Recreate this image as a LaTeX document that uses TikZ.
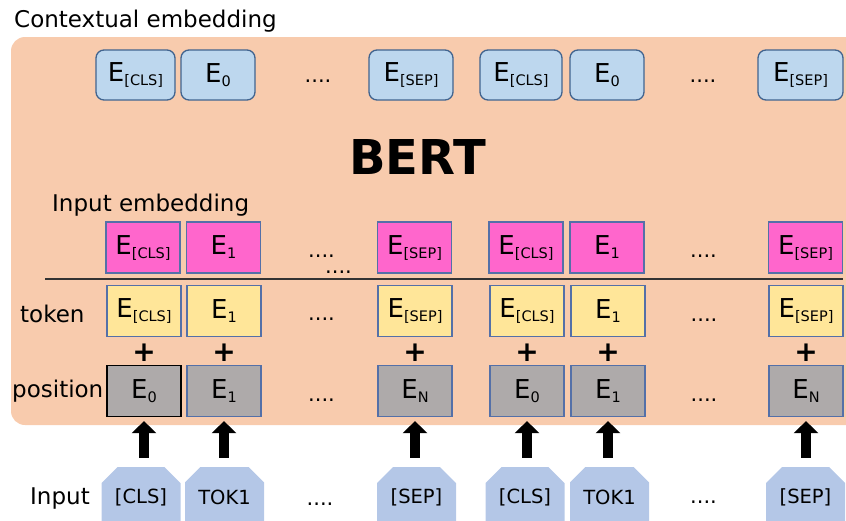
\documentclass[tikz,border=0pt]{standalone}
\usepackage{fontspec}
\setmainfont{DejaVu Sans}
\usetikzlibrary{arrows.meta,shapes.misc}
\definecolor{bgorange}{HTML}{F8CBAD}
\definecolor{ctxblue}{HTML}{BDD7EE}
\definecolor{ctxborder}{HTML}{41648F}
\definecolor{pinkfill}{HTML}{FF66CC}
\definecolor{yellowfill}{HTML}{FFE699}
\definecolor{grayfill}{HTML}{AEAAAA}
\definecolor{boxborder}{HTML}{5470A8}
\definecolor{inputblue}{HTML}{B4C7E7}
\newcommand{\Emb}[1]{E\raisebox{-4pt}{\fontsize{14.5}{14.5}\selectfont #1}}
\tikzset{
  ctx/.style={draw=ctxborder, fill=ctxblue, line width=1.3pt, rounded corners=8pt,
    minimum height=50pt, inner sep=0pt, font=\fontsize{26}{26}\selectfont},
  emb/.style={draw=boxborder, line width=1.2pt, minimum width=74pt, minimum height=51pt,
    inner sep=0pt, font=\fontsize{26}{26}\selectfont},
  pinkbox/.style={emb, fill=pinkfill},
  tokbox/.style={emb, fill=yellowfill},
  posbox/.style={emb, fill=grayfill},
  inbox/.style={chamfered rectangle, chamfered rectangle corners={north west,north east},
    chamfered rectangle xsep=8pt, chamfered rectangle ysep=8pt, fill=inputblue,
    minimum width=79pt, minimum height=60pt, inner sep=0pt, font=\fontsize{19.5}{19.5}\selectfont},
  lbl/.style={anchor=base west, inner sep=0pt, font=\fontsize{23}{23}\selectfont},
  dots/.style={anchor=base, inner sep=0pt, font=\fontsize{21}{21}\selectfont},
  plus/.style={inner sep=0pt, font=\fontsize{28}{28}\selectfont\bfseries},
  bigarrow/.style={line width=10pt, -{Triangle[width=24pt,length=12pt]},
    shorten <=9pt, shorten >=4pt}
}
\begin{document}
\begin{tikzpicture}[x=1pt,y=-1pt]
\useasboundingbox (0,0) rectangle (846,520);
\clip (0,0) rectangle (846,520);
\fill[bgorange, rounded corners=14pt] (11,37) rectangle (880,425);

% labels
\node[lbl] (lctx) at (14,27) {Contextual embedding};
\node[lbl] (linemb) at (52,211) {Input embedding};
\node[lbl] (ltok) at (20,322) {token};
\node[lbl] (lpos) at (12,397) {position};
\node[lbl] (lin) at (30,504) {Input};
\node[inner sep=0pt, font=\fontsize{48}{48}\selectfont\bfseries] (bert) at (417.5,157) {BERT};

% contextual row
\node[ctx, minimum width=79pt] (c1) at (135.5,75) {\Emb{[CLS]}};
\node[ctx, minimum width=74pt] (c2) at (218,75) {\Emb{0}};
\node[ctx, minimum width=84pt] (c3) at (411,75) {\Emb{[SEP]}};
\node[ctx, minimum width=82pt] (c4) at (521,75) {\Emb{[CLS]}};
\node[ctx, minimum width=74pt] (c5) at (607,75) {\Emb{0}};
\node[ctx, minimum width=85pt] (c6) at (800.5,75) {\Emb{[SEP]}};
\node[dots] (cd1) at (318,82) {....};
\node[dots] (cd2) at (703,82) {....};

% separator line
\coordinate (la) at (45,279);
\coordinate (lb) at (843,279);
\draw[line width=1.8pt, black!80] (la) -- (lb);

% input embedding row
\node[pinkbox] (p1) at (143,247.5) {\Emb{[CLS]}};
\node[pinkbox] (p2) at (223.5,247.5) {\Emb{1}};
\node[pinkbox] (p3) at (414.5,247.5) {\Emb{[SEP]}};
\node[pinkbox] (p4) at (526,247.5) {\Emb{[CLS]}};
\node[pinkbox] (p5) at (607,247.5) {\Emb{1}};
\node[pinkbox] (p6) at (805.5,247.5) {\Emb{[SEP]}};
\node[dots] (pd1) at (321.5,257) {....};
\node[dots] (pd2) at (338.5,273) {....};
\node[dots] (pd3) at (703.5,257) {....};

% token row
\node[tokbox] (t1) at (144,311) {\Emb{[CLS]}};
\node[tokbox] (t2) at (224,311) {\Emb{1}};
\node[tokbox] (t3) at (415,311) {\Emb{[SEP]}};
\node[tokbox] (t4) at (527,311) {\Emb{[CLS]}};
\node[tokbox] (t5) at (608,311) {\Emb{1}};
\node[tokbox] (t6) at (806,311) {\Emb{[SEP]}};
\node[dots] (td1) at (321.5,320) {....};
\node[dots] (td2) at (704,321) {....};

% plus signs
\node[plus] (pl1) at (144,353) {+};
\node[plus] (pl2) at (224,353) {+};
\node[plus] (pl3) at (415,353) {+};
\node[plus] (pl4) at (527,353) {+};
\node[plus] (pl5) at (608,353) {+};
\node[plus] (pl6) at (806,353) {+};

% position row
\node[posbox, draw=black] (q1) at (144,391) {\Emb{0}};
\node[posbox] (q2) at (224,391) {\Emb{1}};
\node[posbox] (q3) at (415,391) {\Emb{N}};
\node[posbox] (q4) at (527,391) {\Emb{0}};
\node[posbox] (q5) at (608,391) {\Emb{1}};
\node[posbox] (q6) at (806,391) {\Emb{N}};
\node[dots] (qd1) at (321.5,401) {....};
\node[dots] (qd2) at (704,401) {....};

% inputs
\node[inbox] (i1) at (141,497) {[CLS]};
\node[inbox] (i2) at (224.5,497) {TOK1};
\node[inbox] (i3) at (416.5,497) {[SEP]};
\node[inbox] (i4) at (525,497) {[CLS]};
\node[inbox] (i5) at (609.5,497) {TOK1};
\node[inbox] (i6) at (805.5,497) {[SEP]};
\node[dots] (id1) at (320,505) {....};
\node[dots] (id2) at (703.5,503) {....};

% arrows
\foreach \k in {1,...,6}{
  \draw[bigarrow] (i\k.north -| q\k.south) -- (q\k.south);
}
\end{tikzpicture}
\end{document}
